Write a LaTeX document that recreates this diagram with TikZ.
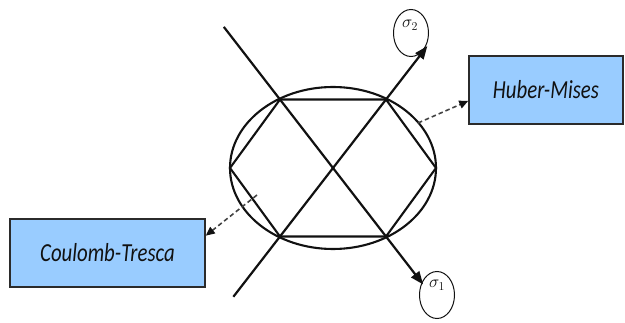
\documentclass[tikz,border=0pt]{standalone}
\usepackage{fontspec}
\usepackage{amsmath}
\usetikzlibrary{arrows.meta,calc,shapes.geometric}
\newfontfamily\boxfont[FakeStretch=0.8]{Carlito}
\definecolor{ink}{HTML}{111111}
\definecolor{boxblue}{HTML}{99CCFF}
\definecolor{boxedge}{HTML}{2B2B2B}
\definecolor{dashgray}{HTML}{444444}
\tikzset{
  >={Triangle[length=13pt,width=10pt]},
  curve/.style={draw=ink,line width=2.1pt},
  axisline/.style={->,draw=ink,line width=2.2pt},
  stressnode/.style={ellipse,draw=ink,line width=1pt,minimum width=35pt,minimum height=47pt,inner sep=0pt},
  stresslabel/.style={font=\fontsize{17}{19}\selectfont,inner sep=0pt,text=ink},
  model/.style={draw=boxedge,fill=boxblue,line width=1.5pt,minimum height=68pt,inner sep=0pt,
    font=\boxfont\itshape\fontsize{26}{30}\selectfont,text=ink},
  lookup/.style={-{Triangle[length=9pt,width=8pt,color=ink]},draw=dashgray,line width=1.6pt,dash pattern=on 4.5pt off 3pt},
}

\begin{document}
\begin{tikzpicture}[x=1pt,y=-1pt]
  \useasboundingbox (0,0) rectangle (625,323);

  \coordinate (O) at (333,168);
  \coordinate (tl) at ($(O)+(-53,-68.5)$);
  \coordinate (tr) at ($(O)+(53,-68.5)$);
  \coordinate (rt) at ($(O)+(103,0)$);
  \coordinate (br) at ($(O)+(53,68.5)$);
  \coordinate (bl) at ($(O)+(-53,68.5)$);
  \coordinate (lt) at ($(O)+(-103,0)$);

  \draw[curve] (O) ellipse [x radius=103,y radius=81];
  \draw[curve] (tl) -- (tr) -- (rt) -- (br) -- (bl) -- (lt) -- cycle;

  \node[stressnode] (s2) at (411,33) {};
  \node[stressnode] (s1) at (437,295) {};
  \node[stresslabel] (s2txt) at ($(s2)+(-1,-8)$) {$\sigma_2$};
  \node[stresslabel] (s1txt) at ($(s1)+(0,-10)$) {$\sigma_1$};

  \coordinate (d1) at ($(O)!2.06!(tl)$);
  \coordinate (s1tip) at ($(O)!1.7!(br)$);
  \coordinate (d2) at ($(O)!1.88!(bl)$);
  \coordinate (s2tip) at ($(O)!1.78!(tr)$);
  \draw[axisline] (d1) -- (s1tip);
  \draw[axisline] (d2) -- (s2tip);

  \node[model,minimum width=154pt] (hm) at (546,90) {Huber-Mises};
  \node[model,minimum width=195pt] (ct) at (107.5,253) {Coulomb-Tresca};

  \coordinate (hmfrom) at (418,123);
  \coordinate (ctfrom) at (257,195);
  \draw[lookup] (hmfrom) -- (hm.188);
  \draw[lookup] (ctfrom) -- (ct.10);
\end{tikzpicture}
\end{document}
